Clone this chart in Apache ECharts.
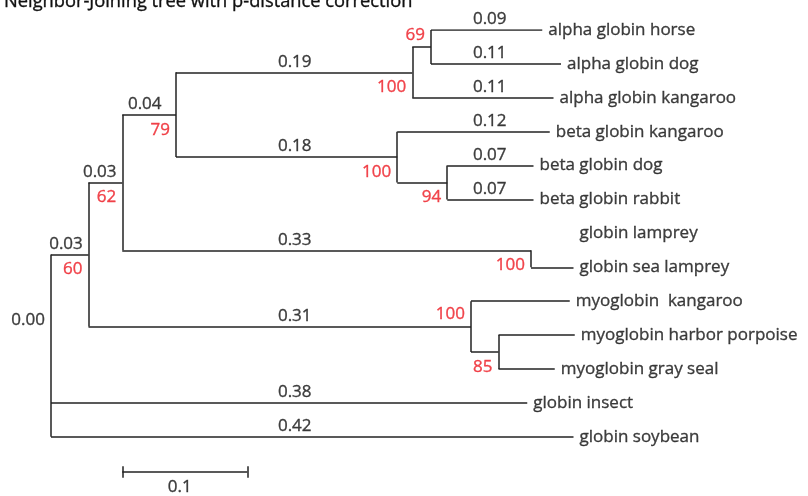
<!DOCTYPE html>
<html>
<head>
<meta charset="utf-8">
<script src="https://cdn.jsdelivr.net/npm/echarts@6/dist/echarts.min.js"></script>
<style>html,body{margin:0;padding:0;background:#fff}#c{width:808px;height:496px}</style>
</head>
<body>
<div id="c"></div>
<script>
// ---- data ----
const chartTitle = 'Neighbor-Joining tree with p-distance correction';
const nodeName = ['root','n60','n62','n79','alpha','n69','beta','n94','lamprey','myo','n85',
  'alpha globin horse','alpha globin dog','alpha globin kangaroo',
  'beta globin kangaroo','beta globin dog','beta globin rabbit',
  'globin lamprey','globin sea lamprey',
  'myoglobin  kangaroo','myoglobin harbor porpoise','myoglobin gray seal',
  'globin insect','globin soybean'];
const nodeParent = [-1,0,1,2,3,4,3,6,2,1,9, 5,5,4, 6,7,7, 8,8, 9,10,10, 0,0];
const branchLength = [0,0.030,0.027,0.043,0.189,0.015,0.177,0.040,0.327,0.306,0.022,
  0.089,0.104,0.113, 0.122,0.069,0.069, 0.034,0.034, 0.079,0.061,0.045, 0.381,0.418];
const branchLabel = ['0.00','0.03','0.03','0.04','0.19','','0.18','','0.33','0.31','',
  '0.09','0.11','0.11', '0.12','0.07','0.07', '','', '','','', '0.38','0.42'];
const bootstrap = [null,60,62,79,100,69,100,94,100,100,85,
  null,null,null,null,null,null,null,null,null,null,null,null,null];
const hiddenBranch = [17];          // zero-length branch not drawn
const scaleBarLength = 0.1;
const scaleBarLabel = '0.1';

// ---- layout (positions, not values) ----
const branchLabelX = {1:0.012,2:0.039,3:0.075,4:0.195,6:0.195,8:0.195,9:0.195,22:0.195,23:0.195,
  11:0.351,12:0.351,13:0.351,14:0.351,15:0.351,16:0.351};
const bootAbove = {5:true,9:true};
const rootLabelY = 8.55;
const scaleBarStart = 0.057, scaleBarY = 13.04;

// compute tree coordinates
const N = nodeName.length;
const children = nodeName.map(()=>[]);
nodeParent.forEach((p,i)=>{ if(p>=0) children[p].push(i); });
const X = new Array(N), Y = new Array(N);
function placeX(i){ X[i] = (nodeParent[i]>=0 ? X[nodeParent[i]] : 0) + branchLength[i]; children[i].forEach(placeX); }
const leaves = [];
for(let i=0;i<N;i++) if(children[i].length===0) leaves.push(i);
function placeY(i){
  if(children[i].length===0){ Y[i] = leaves.indexOf(i); return Y[i]; }
  const ys = children[i].map(placeY);
  Y[i] = (Math.min(...ys)+Math.max(...ys))/2; return Y[i];
}
placeX(0);
placeY(0);

const segs = [];
for(let i=0;i<N;i++){
  const p = nodeParent[i];
  if(p>=0 && hiddenBranch.indexOf(i)<0) segs.push({coords:[[X[p],Y[i]],[X[i],Y[i]]]});
  if(children[i].length){
    const ys = children[i].filter(c=>hiddenBranch.indexOf(c)<0).map(c=>Y[c]).concat([Y[i]]);
    segs.push({coords:[[X[i],Math.min(...ys)],[X[i],Math.max(...ys)]]});
  }
}
// scale bar
const sbSegs = [
  {coords:[[scaleBarStart,scaleBarY],[scaleBarStart+scaleBarLength,scaleBarY]]},
  {coords:[[scaleBarStart,scaleBarY-0.17],[scaleBarStart,scaleBarY+0.17]]},
  {coords:[[scaleBarStart+scaleBarLength,scaleBarY-0.17],[scaleBarStart+scaleBarLength,scaleBarY+0.17]]}
];

const FONT = 'Open Sans';
const FS = 17;
const INK = '#111';
const RED = '#ed1c24';
const txt = [];
for(let i=0;i<N;i++){
  const isLeaf = children[i].length===0;
  if(isLeaf){
    txt.push({value:[X[i],Y[i]],label:{formatter:nodeName[i],align:'left',verticalAlign:'middle',offset:[6,0],color:INK,textBorderColor:INK}});
  }
  if(branchLabel[i] && i>0){
    txt.push({value:[branchLabelX[i],Y[i]],label:{formatter:branchLabel[i],align:'center',verticalAlign:'bottom',offset:[0,-2],color:INK,textBorderColor:INK}});
  }
  if(bootstrap[i]!=null){
    txt.push({value:[X[i],Y[i]],label:{formatter:String(bootstrap[i]),align:'right',verticalAlign:'middle',offset:[-6,bootAbove[i]?-12:15],color:RED,textBorderColor:RED}});
  }
}
txt.push({value:[0,rootLabelY],label:{formatter:branchLabel[0],align:'right',verticalAlign:'middle',offset:[-6,0],color:INK,textBorderColor:INK}});
txt.push({value:[scaleBarStart+scaleBarLength/2,scaleBarY],label:{formatter:scaleBarLabel,align:'center',verticalAlign:'middle',offset:[-5,15],color:INK,textBorderColor:INK}});

const chart = echarts.init(document.getElementById('c'));
chart.setOption({
  animation:false,
  title:{text:chartTitle,left:-1,top:-12,textStyle:{fontFamily:FONT,fontSize:18.3,fontWeight:'normal',color:INK,textBorderColor:INK,textBorderWidth:0.35}},
  grid:{left:51,top:30,right:7,bottom:5},
  xAxis:{type:'value',min:0,max:0.6,show:false},
  yAxis:{type:'value',min:0,max:13.6,inverse:true,show:false},
  series:[
    {type:'lines',coordinateSystem:'cartesian2d',polyline:false,silent:true,
     lineStyle:{color:'#222',width:1.5,opacity:1},data:segs.concat(sbSegs)},
    {type:'scatter',symbolSize:0,silent:true,
     label:{show:true,position:'inside',fontFamily:FONT,fontSize:FS,textBorderWidth:0.35},
     data:txt}
  ]
});
</script>
</body>
</html>
